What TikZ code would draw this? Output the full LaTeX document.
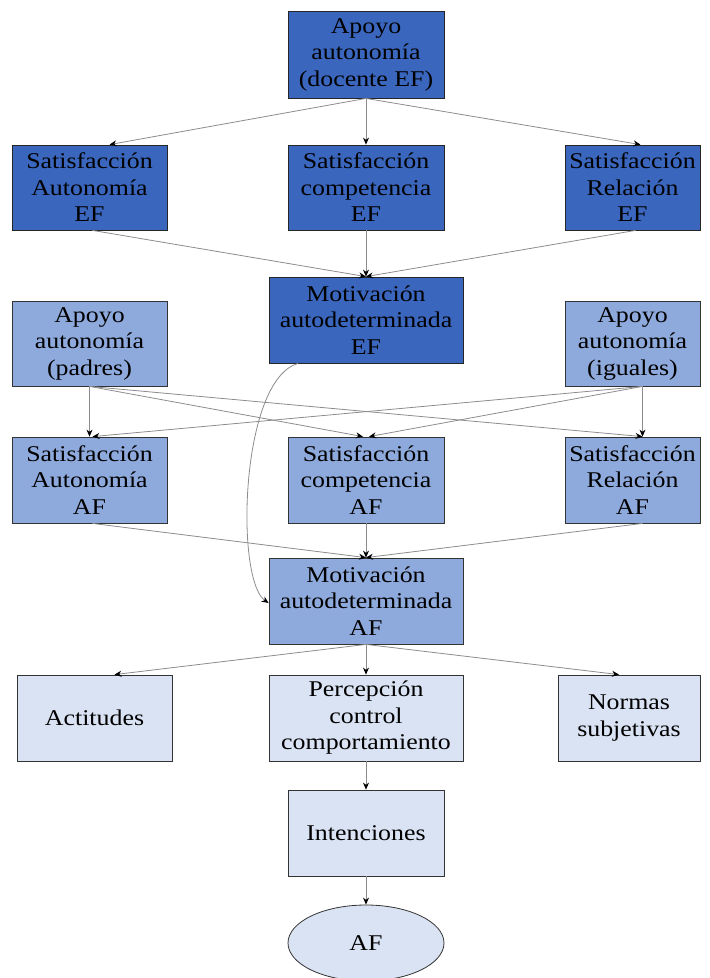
\documentclass[tikz,border=0pt]{standalone}
\usepackage{fontspec}
\setmainfont{Liberation Serif}[FakeStretch=1.15]
\usetikzlibrary{arrows.meta,shapes.geometric,calc}
\definecolor{dblue}{HTML}{3A66BE}
\definecolor{mblue}{HTML}{8EA9DB}
\definecolor{lblue}{HTML}{DAE3F3}
\definecolor{edgegray}{HTML}{8C8C8C}
\tikzset{
  box/.style={draw=black!80, line width=0.8pt, align=center, inner sep=2pt,
    font=\fontsize{22.5}{26.5}\selectfont},
  boxd/.style={box, fill=dblue, draw=black!85},
  boxm/.style={box, fill=mblue},
  boxl/.style={box, fill=lblue},
  conn/.style={draw=edgegray, line width=0.8pt, -{Stealth[black,length=7pt,width=6pt]}},
}
\begin{document}
\begin{tikzpicture}[x=1pt,y=-1pt]
\useasboundingbox (0,0) rectangle (710,978);
\begin{scope}
\clip (0,0) rectangle (710,978);
\node[boxd, minimum width=156pt, minimum height=87pt] (top) at (366,54.5) {Apoyo\\autonomía\\(docente EF)};
\node[boxd, minimum width=155pt, minimum height=85pt] (sa) at (89.5,187.5) {Satisfacción\\Autonomía\\EF};
\node[boxd, minimum width=156pt, minimum height=85pt] (sc) at (366,187.5) {Satisfacción\\competencia\\EF};
\node[boxd, minimum width=135pt, minimum height=85pt] (sr) at (632.5,187.5) {Satisfacción\\Relación\\EF};
\node[boxd, minimum width=194pt, minimum height=86pt] (mef) at (366,320) {Motivación\\autodeterminada\\EF};
\node[boxm, minimum width=155pt, minimum height=85pt] (ap) at (89.5,343.5) {Apoyo\\autonomía\\(padres)};
\node[boxm, minimum width=135pt, minimum height=85pt] (ai) at (632.5,343.5) {Apoyo\\autonomía\\(iguales)};
\node[boxm, minimum width=155pt, minimum height=86pt] (saa) at (89.5,480) {Satisfacción\\Autonomía\\AF};
\node[boxm, minimum width=156pt, minimum height=86pt] (sca) at (366,480) {Satisfacción\\competencia\\AF};
\node[boxm, minimum width=135pt, minimum height=86pt] (sra) at (632.5,480) {Satisfacción\\Relación\\AF};
\node[boxm, minimum width=194pt, minimum height=86pt] (maf) at (366,601) {Motivación\\autodeterminada\\AF};
\node[boxl, minimum width=155pt, minimum height=86pt] (act) at (94.5,718) {Actitudes};
\node[boxl, minimum width=194pt, minimum height=86pt] (pcc) at (366,718) {Percepción\\control\\comportamiento};
\node[boxl, minimum width=142pt, minimum height=86pt] (nor) at (629,718) {Normas\\subjetivas};
\node[boxl, minimum width=156pt, minimum height=86pt] (int) at (366,833) {Intenciones};
\node[boxl, ellipse, inner sep=0pt, minimum width=156pt, minimum height=76pt] (af) at (366,943) {AF};

\draw[conn] (top.south) -- ([xshift=20pt]sa.north);
\draw[conn] (top.south) -- (sc.north);
\draw[conn] (top.south) -- ([xshift=8pt]sr.north);
\draw[conn] ([xshift=3pt]sa.south) -- (mef.north);
\draw[conn] (sc.south) -- (mef.north);
\draw[conn] ([xshift=3pt]sr.south) -- (mef.north);
\draw[conn] (ap.south) -- (saa.north);
\draw[conn] (ap.south) -- ([xshift=-3pt]sca.north);
\draw[conn] (ap.south) -- ([xshift=10pt]sra.north);
\draw[conn] ([xshift=10pt]ai.south) -- ([xshift=3pt]saa.north);
\draw[conn] ([xshift=10pt]ai.south) -- ([xshift=3pt]sca.north);
\draw[conn] ([xshift=10pt]ai.south) -- ([xshift=10pt]sra.north);
\draw[conn] ([xshift=3pt]saa.south) -- (maf.north);
\draw[conn] (sca.south) -- (maf.north);
\draw[conn] ([xshift=10pt]sra.south) -- (maf.north);
\draw[conn] ([xshift=-68pt]mef.south) .. controls (240,380) and (235,580) .. ([yshift=-2pt]maf.west);
\draw[conn] (maf.south) -- ([xshift=20pt]act.north);
\draw[conn] (maf.south) -- (pcc.north);
\draw[conn] (maf.south) -- ([xshift=-10pt]nor.north);
\draw[conn] (pcc.south) -- (int.north);
\draw[conn] (int.south) -- (af.north);
\end{scope}
\end{tikzpicture}
\end{document}
